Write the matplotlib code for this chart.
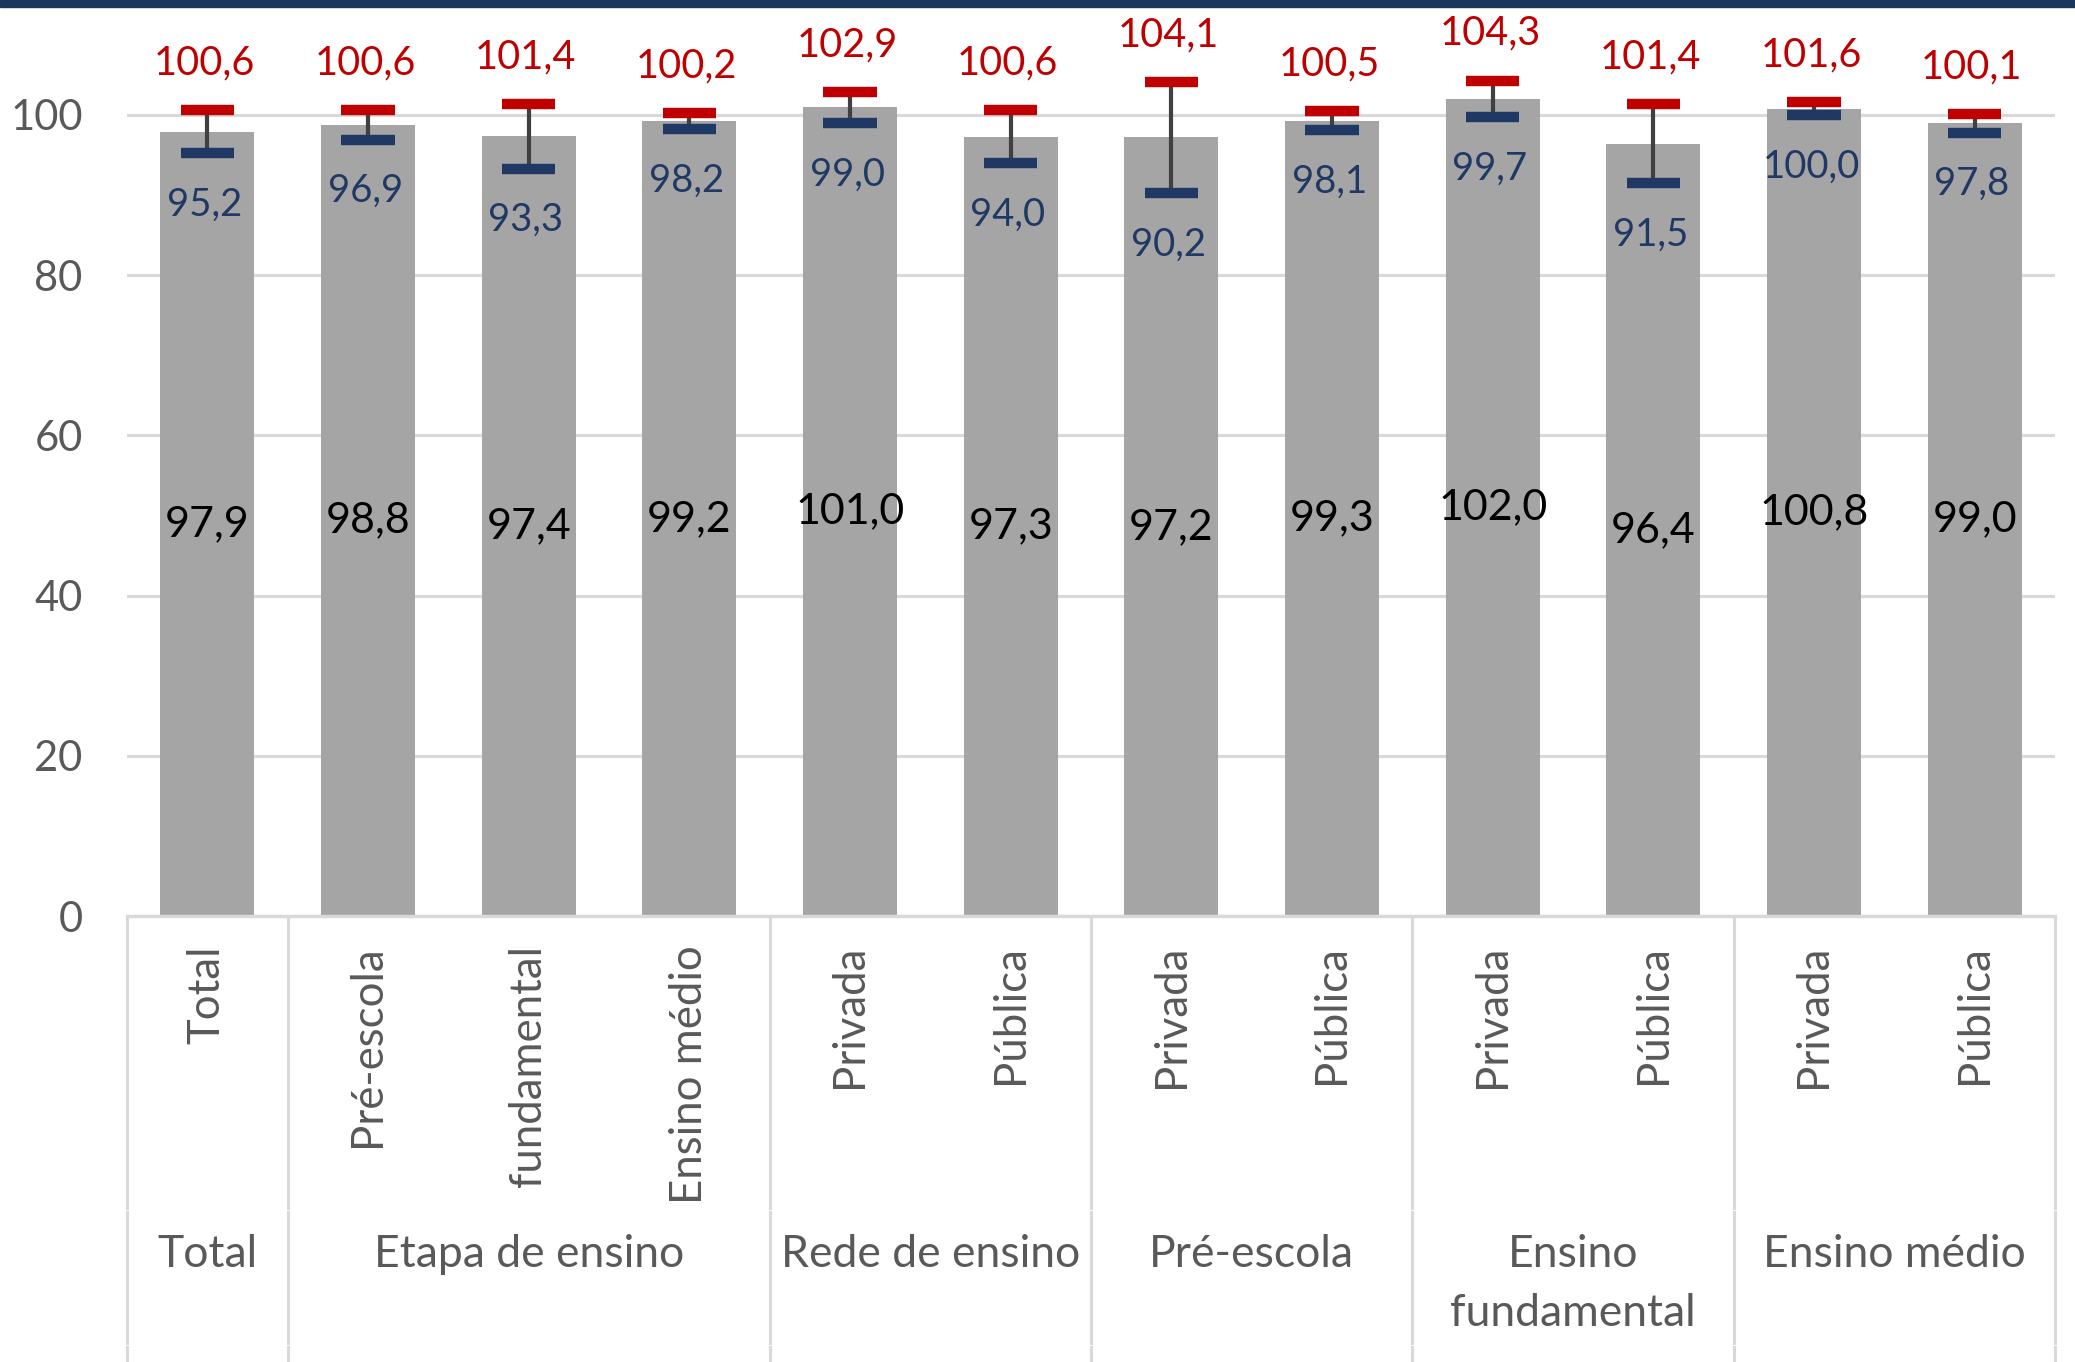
import matplotlib
matplotlib.use("Agg")
import matplotlib.pyplot as plt
from matplotlib.patches import Rectangle
from matplotlib.transforms import Bbox, TransformedBbox, blended_transform_factory

plt.rcParams['font.family'] = ['Lato', 'DejaVu Sans']

categories = ["Total", "Pré-escola", "fundamental", "Ensino médio",
              "Privada", "Pública", "Privada", "Pública",
              "Privada", "Pública", "Privada", "Pública"]
values = [97.9, 98.8, 97.4, 99.2, 101.0, 97.3, 97.2, 99.3, 102.0, 96.4, 100.8, 99.0]
lower = [95.2, 96.9, 93.3, 98.2, 99.0, 94.0, 90.2, 98.1, 99.7, 91.5, 100.0, 97.8]
upper = [100.6, 100.6, 101.4, 100.2, 102.9, 100.6, 104.1, 100.5, 104.3, 101.4, 101.6, 100.1]
groups = ["Total", "Etapa de ensino", "Rede de ensino", "Pré-escola",
          "Ensino\nfundamental", "Ensino médio"]
group_sizes = [1, 3, 2, 2, 2, 2]

W, H = 2075, 1362
fig = plt.figure(figsize=(W / 100, H / 100), dpi=100)
ax = fig.add_axes([127 / W, (H - 916) / H, 1928 / W, 916 / H])

def fy(px):
    # pixel row from top -> figure fraction
    return (H - px) / H

x = list(range(len(categories)))
ax.bar(x, values, width=0.585, color="#A5A5A5", zorder=2)
ax.vlines(x, lower, upper, color="#404040", lw=3, zorder=3)
ax.hlines(upper, [i - 0.165 for i in x], [i + 0.165 for i in x], color="#C00000", lw=7.5, zorder=4)
ax.hlines(lower, [i - 0.165 for i in x], [i + 0.165 for i in x], color="#203864", lw=7.5, zorder=4)

fmt = lambda v: f"{v:.1f}".replace(".", ",")
for i in x:
    ax.text(i, values[i] / 2, fmt(values[i]), ha="center", va="center",
            fontsize=31, color="black", zorder=5)
    ax.annotate(fmt(upper[i]), (i, upper[i]), xytext=(-2, 34), textcoords="offset points",
                ha="center", va="center", fontsize=28.5, color="#C00000", annotation_clip=False)
    ax.annotate(fmt(lower[i]), (i, lower[i]), xytext=(-2, -37), textcoords="offset points",
                ha="center", va="center", fontsize=27.5, color="#203864", annotation_clip=False)

ax.set_xlim(-0.5, len(categories) - 0.5)
ax.set_ylim(0, 916 / 8.01)
ax.set_yticks(range(0, 101, 20))
ax.tick_params(axis="y", length=0, pad=32, labelsize=30, labelcolor="#595959")
ax.set_xticks([])
ax.grid(axis="y", color="#D9D9D9", lw=2.2, zorder=0)
for s in ["top", "right", "left"]:
    ax.spines[s].set_visible(False)
ax.spines["bottom"].set_color("#D9D9D9")
ax.spines["bottom"].set_linewidth(2.5)
ax.set_axisbelow(True)

# rotated category labels, clipped at the group row
clip = TransformedBbox(Bbox([[0, fy(1207)], [1, 1]]), fig.transFigure)
tr = blended_transform_factory(ax.transData, fig.transFigure)
for i, c in enumerate(categories):
    t = ax.text(i, fy(945), c, rotation=90, ha="center", va="top", fontsize=31.5,
                color="#595959", transform=tr, clip_on=True)
    t.set_clip_box(clip)

# group table
edges = [-0.5]
for g in group_sizes:
    edges.append(edges[-1] + g)
for e in edges:
    for y0, y1 in [(918, 1208), (1212, 1343), (1347, 1362)]:
        ax.plot([e, e], [fy(y0), fy(y1)], color="#D9D9D9", lw=2.2, transform=tr, clip_on=False)
for g, a, b in zip(groups, edges[:-1], edges[1:]):
    ax.text((a + b) / 2, fy(1234), g, ha="center", va="top", fontsize=32, color="#595959",
            transform=tr, linespacing=1.55)

fig.patches.append(Rectangle((0, fy(7)), 1, 7 / H, transform=fig.transFigure,
                             color="#1B365D", zorder=10))

fig.savefig("out.png", dpi=100)
